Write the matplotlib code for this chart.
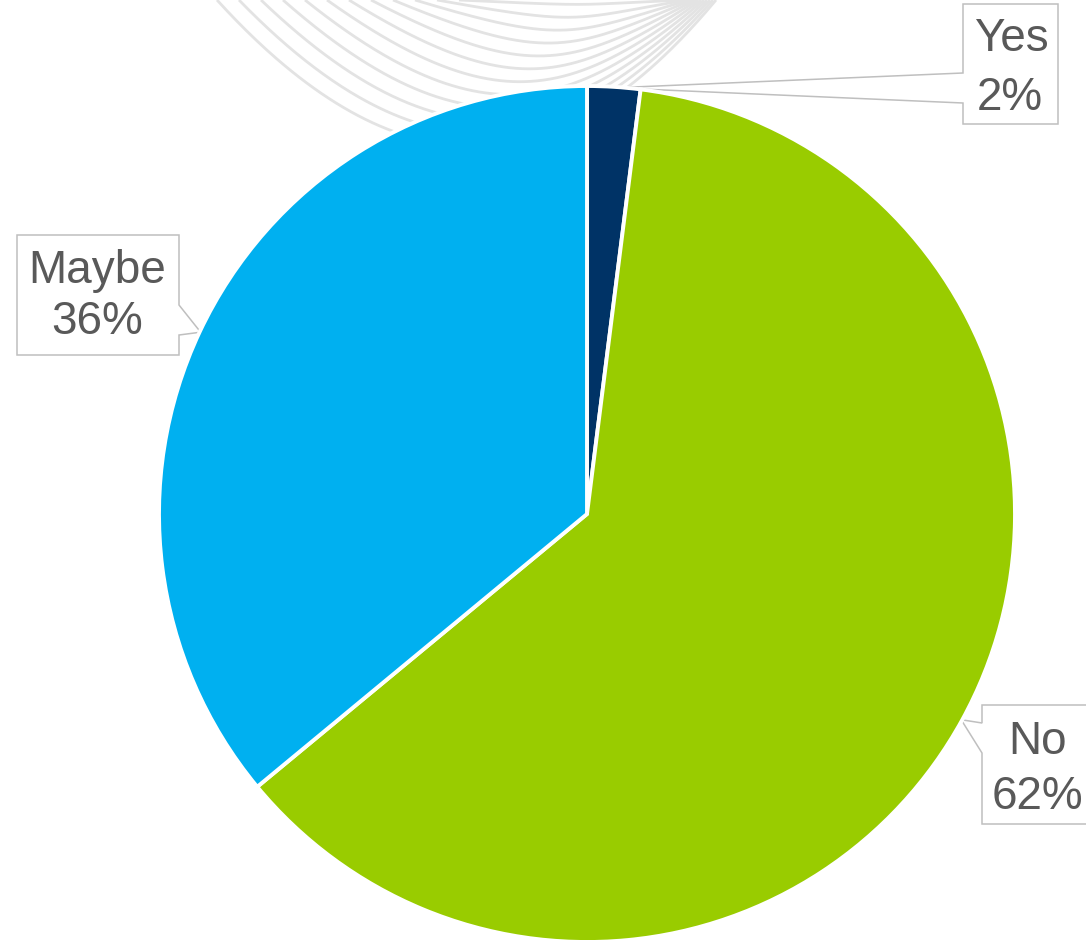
import numpy as np
import matplotlib
matplotlib.use("Agg")
import matplotlib.pyplot as plt
from matplotlib.patches import Polygon

# Survey answers
labels = ["Yes", "No", "Maybe"]
shares = [2, 62, 36]
colors = ["#003366", "#99CC00", "#00B0F0"]

W, H = 1086, 940
fig = plt.figure(figsize=(W / 100, H / 100), dpi=100)
ax = fig.add_axes([0, 0, 1, 1])
ax.set_xlim(0, W)
ax.set_ylim(0, H)
ax.set_aspect("equal")
ax.axis("off")


def fy(y):
    """Convert a top-down pixel row to the axes' bottom-up y."""
    return H - y


# Decorative swoosh lines behind the pie
def bezier(p0, p1, p2, p3, n=300):
    t = np.linspace(0, 1, n)[:, None]
    return ((1 - t) ** 3 * p0 + 3 * t * (1 - t) ** 2 * p1
            + 3 * t ** 2 * (1 - t) * p2 + t ** 3 * p3)


n_lines = 12
for k in range(n_lines):
    f = k / (n_lines - 1)
    s = 1 - 0.97 * f
    xl = 217 + 22 * k
    xr = 716 - 3 * k
    p0 = np.array([xl, 0.0])
    p1 = np.array([xl + 200 * (1 - 0.3 * f), 220 * s])
    p2 = np.array([xr - 140 * (1 - 0.2 * f), 168 * s])
    p3 = np.array([xr, 0.0])
    pts = bezier(p0, p1, p2, p3)
    ax.plot(pts[:, 0], fy(pts[:, 1]), color="#E3E3E3", lw=2.0,
            solid_capstyle="butt", zorder=1)

# Pie
cx, cy, R = 587, fy(514), 428
wedges, _ = ax.pie(shares, colors=colors, startangle=90, counterclock=False,
                   center=(cx, cy), radius=R, frame=True,
                   wedgeprops=dict(edgecolor="white", linewidth=2.8))
for w in wedges:
    w.set_zorder(3)
ax.set_xlim(0, W)
ax.set_ylim(0, H)
ax.axis("off")


def tip(wedge):
    mid = np.deg2rad((wedge.theta1 + wedge.theta2) / 2)
    return (cx + (R - 1) * np.cos(mid), cy + (R - 1) * np.sin(mid))


box_style = dict(facecolor="white", edgecolor="#BFBFBF", lw=1.1, zorder=2)
text_style = dict(fontsize=33, color="#595959", family="Liberation Sans",
                  ha="center", va="baseline", zorder=5)

# Yes callout (pointer on the left side)
tx, ty = tip(wedges[0])
yes_box = [(963, fy(4)), (1058, fy(4)), (1058, fy(124)), (963, fy(124)),
           (963, fy(103)), (tx, ty), (963, fy(73))]
ax.add_patch(Polygon(yes_box, closed=True, **box_style))
ax.text(1011, fy(51), labels[0], **text_style)
ax.text(1010, fy(110), f"{shares[0]}%", **text_style)

# No callout (pointer on the left side)
tx, ty = tip(wedges[1])
no_box = [(982, fy(705)), (1100, fy(705)), (1100, fy(824)), (982, fy(824)),
          (982, fy(753)), (tx, ty), (982, fy(723))]
ax.add_patch(Polygon(no_box, closed=True, **box_style))
ax.text(1038, fy(754), labels[1], **text_style)
ax.text(1037, fy(809), f"{shares[1]}%", **text_style)

# Maybe callout (pointer on the right side)
tx, ty = tip(wedges[2])
maybe_box = [(17, fy(235)), (179, fy(235)), (179, fy(305)), (tx, ty),
             (179, fy(335)), (179, fy(355)), (17, fy(355))]
ax.add_patch(Polygon(maybe_box, closed=True, **box_style))
ax.text(97, fy(283), labels[2], **text_style)
ax.text(97, fy(334), f"{shares[2]}%", **text_style)

fig.savefig("out.png", dpi=100, facecolor="white")
